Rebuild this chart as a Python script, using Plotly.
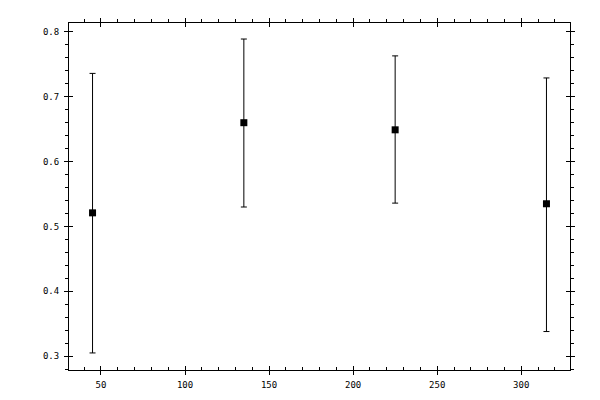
import plotly.graph_objects as go

# angle positions and measured values with their error bounds
x_vals = [45, 135, 225, 315]
y_vals = [0.521, 0.660, 0.649, 0.535]
y_upper = [0.736, 0.789, 0.763, 0.729]
y_lower = [0.305, 0.530, 0.536, 0.338]

x_ticks = [50, 100, 150, 200, 250, 300]
y_ticks = [0.3, 0.4, 0.5, 0.6, 0.7, 0.8]

X_RANGE = [31, 329]
Y_RANGE = [0.2787, 0.8137]
FONT = dict(family='DejaVu Sans Mono', size=9, color='black')

err_plus = [u - y for u, y in zip(y_upper, y_vals)]
err_minus = [y - l for l, y in zip(y_lower, y_vals)]

fig = go.Figure()
fig.add_trace(go.Scatter(
    x=x_vals, y=y_vals, mode='markers',
    marker=dict(symbol='square', size=7, color='black'),
    error_y=dict(type='data', array=err_plus, arrayminus=err_minus,
                 color='black', thickness=1, width=3),
    showlegend=False, hoverinfo='skip',
))

# invisible copies so the overlay axes (extra tick sets) get drawn
for n in (2, 3, 4):
    fig.add_trace(go.Scatter(
        x=x_vals, y=y_vals, mode='markers', xaxis='x%d' % n, yaxis='y%d' % n,
        marker=dict(opacity=0), showlegend=False, hoverinfo='skip',
    ))

base = dict(showgrid=False, zeroline=False, tickcolor='black', tickwidth=1,
            linecolor='black', linewidth=1, tickfont=FONT)

fig.update_layout(
    width=600, height=400,
    # page body adds 8px offset, so margins are shifted to compensate
    margin=dict(l=61, r=38, t=11, b=38, pad=0),
    paper_bgcolor='white', plot_bgcolor='white',
    # bottom: major crossing, minor inside
    xaxis=dict(base, range=X_RANGE, side='bottom', showline=True,
               tickmode='array', tickvals=x_ticks, ticks='outside', ticklen=4,
               minor=dict(dtick=10, tick0=0, ticks='inside', ticklen=3,
                          tickcolor='black', tickwidth=1),
               ticklabelstandoff=2),
    xaxis2=dict(base, range=X_RANGE, overlaying='x', side='bottom', showline=False,
                tickmode='array', tickvals=x_ticks, ticks='inside', ticklen=4,
                showticklabels=False),
    # top: major crossing, minor outside
    xaxis3=dict(base, range=X_RANGE, overlaying='x', side='top', showline=True,
                tickmode='array', tickvals=x_ticks, ticks='outside', ticklen=4,
                minor=dict(dtick=10, tick0=0, ticks='outside', ticklen=3,
                           tickcolor='black', tickwidth=1),
                showticklabels=False),
    xaxis4=dict(base, range=X_RANGE, overlaying='x', side='top', showline=False,
                tickmode='array', tickvals=x_ticks, ticks='inside', ticklen=4,
                showticklabels=False),
    # left: major crossing, minor outside
    yaxis=dict(base, range=Y_RANGE, side='left', showline=True,
               tickmode='array', tickvals=y_ticks, ticks='outside', ticklen=4,
               tickformat='.1f',
               minor=dict(dtick=0.02, tick0=0, ticks='outside', ticklen=3,
                          tickcolor='black', tickwidth=1),
               ticklabelstandoff=3),
    yaxis2=dict(base, range=Y_RANGE, overlaying='y', side='left', showline=False,
                tickmode='array', tickvals=y_ticks, ticks='inside', ticklen=4,
                showticklabels=False),
    # right: major crossing, minor outside
    yaxis3=dict(base, range=Y_RANGE, overlaying='y', side='right', showline=True,
                tickmode='array', tickvals=y_ticks, ticks='outside', ticklen=4,
                minor=dict(dtick=0.02, tick0=0, ticks='outside', ticklen=3,
                           tickcolor='black', tickwidth=1),
                showticklabels=False),
    yaxis4=dict(base, range=Y_RANGE, overlaying='y', side='right', showline=False,
                tickmode='array', tickvals=y_ticks, ticks='inside', ticklen=4,
                showticklabels=False),
)

fig.write_html("out.html")
